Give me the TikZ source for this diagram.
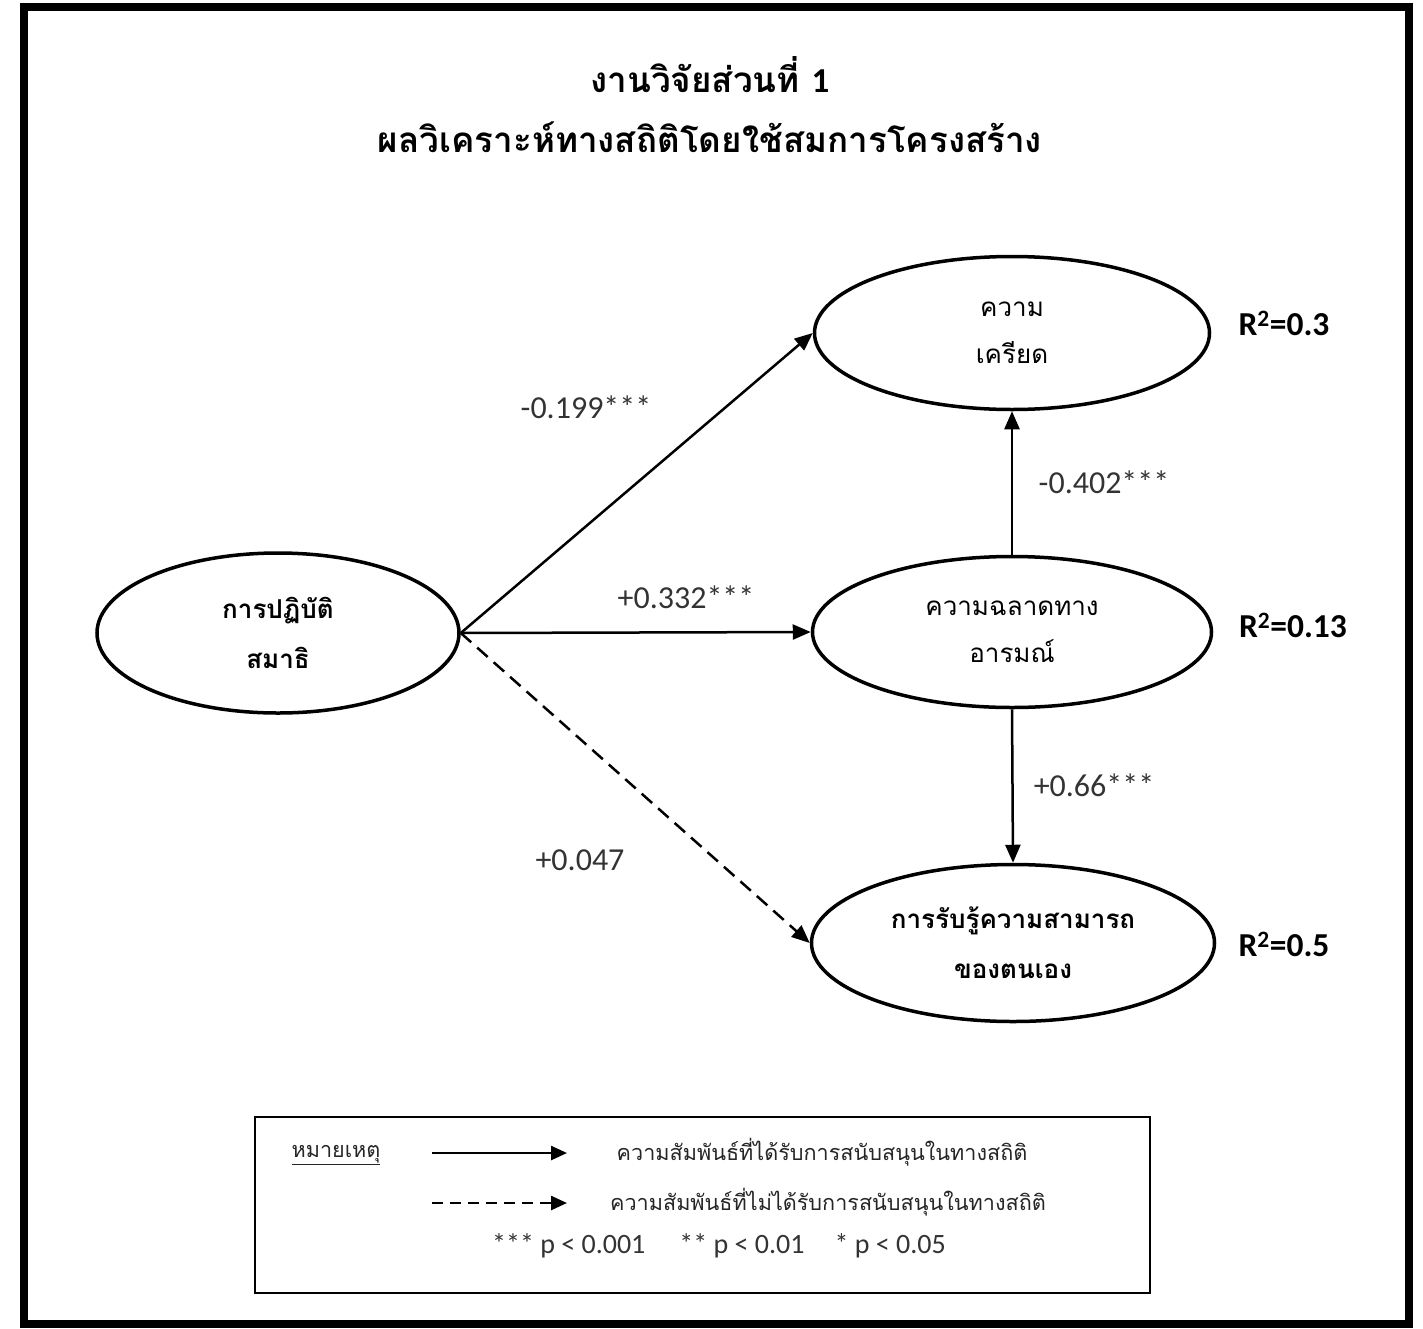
\documentclass[tikz,border=0pt]{standalone}
\usepackage{fontspec}
\setmainfont{Carlito}
\newfontfamily\thaifont[Script=Thai]{Loma}
\usetikzlibrary{shapes.geometric,arrows.meta}
\begin{document}
\begin{tikzpicture}[x=1pt,y=-1pt,
  ell/.style={ellipse, draw, line width=3.5pt, inner sep=0pt, align=center, text=black},
  conn/.style={line width=2.5pt, -{Triangle[length=18pt,width=15pt]}},
  dconn/.style={conn, dash pattern=on 14pt off 8pt},
  coef/.style={font=\fontsize{32}{38}\selectfont, text=black!80},
  rsq/.style={font=\bfseries\fontsize{33.5}{38}\selectfont},
  thaiE/.style={font=\thaifont\fontsize{26}{47}\selectfont},
  thaiEb/.style={font=\thaifont\bfseries\fontsize{26}{50}\selectfont},
  ttl/.style={font=\thaifont\bfseries\fontsize{35}{40}\selectfont},
  leg/.style={font=\thaifont\fontsize{21.6}{26}\selectfont, text=black!85},
  legarrow/.style={line width=2.5pt, -{Triangle[length=16pt,width=14pt]}}
]
\useasboundingbox (0,0) rectangle (1423,1328);
\draw[line width=8pt] (24,7) rectangle (1409,1324);

% title
\node[ttl] (t1) at (710,75) {งานวิจัยส่วนที่ {\rmfamily 1}};
\node[ttl] (t2) at (710,137) {ผลวิเคราะห์ทางสถิติโดยใช้สมการโครงสร้าง};

% ellipses
\node[ell, thaiEb, minimum width=362pt, minimum height=160pt] (A) at (278,633) {การปฏิบัติ\\สมาธิ};
\node[ell, thaiE, minimum width=395pt, minimum height=153pt] (B) at (1012,333) {ความ\\เครียด};
\node[ell, thaiE, minimum width=399pt, minimum height=151pt] (C) at (1012,632) {ความฉลาดทาง\\อารมณ์};
\node[ell, thaiEb, minimum width=403pt, minimum height=157pt] (D) at (1013,943) {การรับรู้ความสามารถ\\ของตนเอง};

% connectors
\draw[conn] (A.east) -- (B.west);
\draw[conn] (A.east) -- (C.west);
\draw[dconn] (A.east) -- (D.west);
\draw[conn] (C.north) -- (B.south);
\draw[conn] (C.south) -- (D.north);

% coefficients
\node[coef] (c1) at (586,407) {-0.199***};
\node[coef] (c2) at (686,597) {+0.332***};
\node[coef] (c3) at (1104,482) {-0.402***};
\node[coef] (c4) at (1094,785) {+0.66***};
\node[coef] (c5) at (580,860) {+0.047};

% R squared
\node[rsq] (r1) at (1284,323) {R\textsuperscript{2}=0.3};
\node[rsq] (r2) at (1293,625) {R\textsuperscript{2}=0.13};
\node[rsq] (r3) at (1284,944) {R\textsuperscript{2}=0.5};

% legend
\node[draw, line width=2pt, minimum width=895pt, minimum height=176pt, inner sep=0pt] (L) at (702.5,1205) {};
\node[leg] (n0) at (336,1155) {\underline{หมายเหตุ}};
\coordinate (s1) at (432,1153);
\coordinate (e1) at (567,1153);
\coordinate (s2) at (432,1203);
\coordinate (e2) at (567,1203);
\draw[legarrow] (s1) -- (e1);
\draw[legarrow, dash pattern=on 11pt off 7pt] (s2) -- (e2);
\node[leg] (l1) at (822,1152) {ความสัมพันธ์ที่ได้รับการสนับสนุนในทางสถิติ};
\node[leg] (l2) at (828,1202) {ความสัมพันธ์ที่ไม่ได้รับการสนับสนุนในทางสถิติ};
\node[font=\fontsize{28}{32}\selectfont, text=black!80] (l3) at (719,1246) {*** p < 0.001\hspace{34pt}** p < 0.01\hspace{30pt}* p < 0.05};
\end{tikzpicture}
\end{document}
